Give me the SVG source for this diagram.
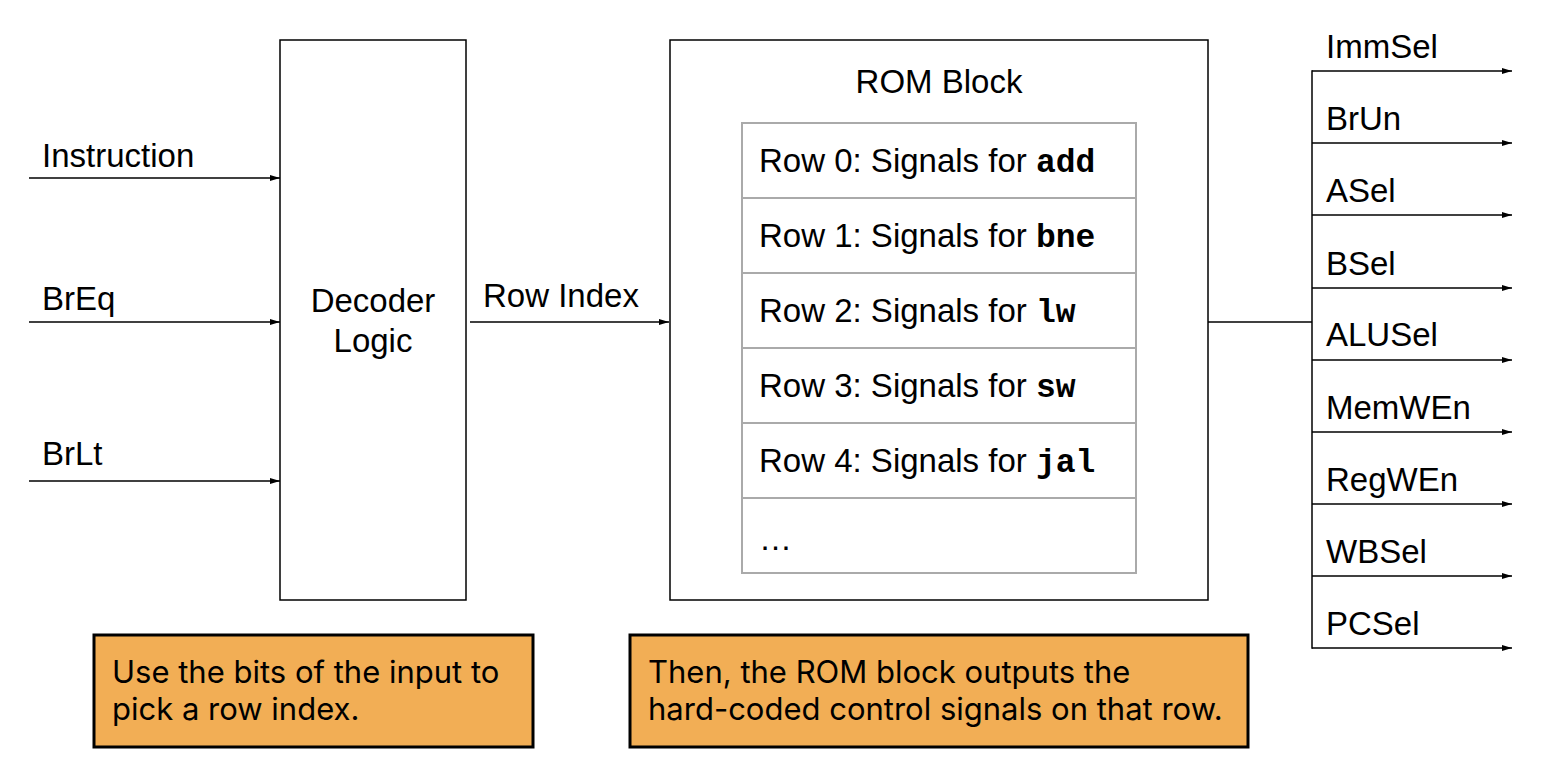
<svg xmlns="http://www.w3.org/2000/svg" width="1568" height="768" viewBox="0 0 1568 768">
<style>
.lbl{font-family:"Liberation Sans",Arial,sans-serif;font-size:33px;fill:#000}
.mono{font-family:"Liberation Mono","Courier New",monospace;font-weight:bold}
.note{font-family:Inter,"Liberation Sans",sans-serif;font-size:31px;fill:#000}
.box{fill:#fff;stroke:#000;stroke-width:1.5}
.cell{fill:#fff;stroke:#aaa;stroke-width:2}
.wire{fill:none;stroke:#000;stroke-width:1.5}
.arr{fill:none;stroke:#000;stroke-width:1.5;marker-end:url(#ah)}
.orange{fill:#F2AE55;stroke:#000;stroke-width:3}
</style>
<defs>
<marker id="ah" viewBox="0 0 10 6" refX="10" refY="3" markerWidth="10" markerHeight="6" markerUnits="userSpaceOnUse" orient="auto">
<path d="M0,0 L10,3 L0,6 z" fill="#000"/>
</marker>
</defs>
<rect width="1568" height="768" fill="#fff"/>
<g id="decoder">
<rect class="box" x="280" y="40" width="186" height="560"/>
<text class="lbl" x="373" y="312" text-anchor="middle">Decoder</text>
<text class="lbl" x="373" y="352" text-anchor="middle">Logic</text>
</g>
<g id="rom">
<rect class="box" x="670" y="40" width="538" height="560"/>
<text class="lbl" x="939" y="93" text-anchor="middle">ROM Block</text>
<rect class="cell" x="742" y="123" width="394" height="75"/>
<rect class="cell" x="742" y="198" width="394" height="75"/>
<rect class="cell" x="742" y="273" width="394" height="75"/>
<rect class="cell" x="742" y="348" width="394" height="75"/>
<rect class="cell" x="742" y="423" width="394" height="75"/>
<rect class="cell" x="742" y="498" width="394" height="75"/>
<text class="lbl" x="759" y="172">Row 0: Signals for <tspan class="mono">add</tspan></text>
<text class="lbl" x="759" y="247">Row 1: Signals for <tspan class="mono">bne</tspan></text>
<text class="lbl" x="759" y="322">Row 2: Signals for <tspan class="mono">lw</tspan></text>
<text class="lbl" x="759" y="397">Row 3: Signals for <tspan class="mono">sw</tspan></text>
<text class="lbl" x="759" y="472">Row 4: Signals for <tspan class="mono">jal</tspan></text>
<text class="lbl" x="759" y="550">…</text>
</g>
<g id="note1">
<rect class="orange" x="94" y="635" width="439" height="112"/>
<text class="note" x="112" y="683">Use the bits of the input to</text>
<text class="note" x="112" y="720">pick a row index.</text>
</g>
<g id="note2">
<rect class="orange" x="630" y="635" width="618" height="112"/>
<text class="note" x="648" y="683">Then, the ROM block outputs the</text>
<text class="note" x="648" y="720">hard-coded control signals on that row.</text>
</g>
<g id="connectors">
<line class="arr" x1="29" y1="178" x2="280" y2="178"/>
<line class="arr" x1="29" y1="322" x2="280" y2="322"/>
<line class="arr" x1="29" y1="481" x2="280" y2="481"/>
<line class="arr" x1="470" y1="322" x2="669" y2="322"/>
<line class="wire" x1="1208" y1="322" x2="1312" y2="322"/>
<line class="wire" x1="1312" y1="70.25" x2="1312" y2="648.75"/>
<line class="arr" x1="1312" y1="71" x2="1512" y2="71"/>
<line class="arr" x1="1312" y1="143" x2="1512" y2="143"/>
<line class="arr" x1="1312" y1="215" x2="1512" y2="215"/>
<line class="arr" x1="1312" y1="288" x2="1512" y2="288"/>
<line class="arr" x1="1312" y1="360" x2="1512" y2="360"/>
<line class="arr" x1="1312" y1="432" x2="1512" y2="432"/>
<line class="arr" x1="1312" y1="504" x2="1512" y2="504"/>
<line class="arr" x1="1312" y1="576" x2="1512" y2="576"/>
<line class="arr" x1="1312" y1="648" x2="1512" y2="648"/>
</g>
<g id="labels">
<text class="lbl" x="42" y="167">Instruction</text>
<text class="lbl" x="42" y="310">BrEq</text>
<text class="lbl" x="42" y="465">BrLt</text>
<text class="lbl" x="483" y="307">Row Index</text>
<text class="lbl" x="1326" y="58">ImmSel</text>
<text class="lbl" x="1326" y="130">BrUn</text>
<text class="lbl" x="1326" y="202">ASel</text>
<text class="lbl" x="1326" y="275">BSel</text>
<text class="lbl" x="1326" y="346">ALUSel</text>
<text class="lbl" x="1326" y="419">MemWEn</text>
<text class="lbl" x="1326" y="491">RegWEn</text>
<text class="lbl" x="1326" y="563">WBSel</text>
<text class="lbl" x="1326" y="635">PCSel</text>
</g>
</svg>
